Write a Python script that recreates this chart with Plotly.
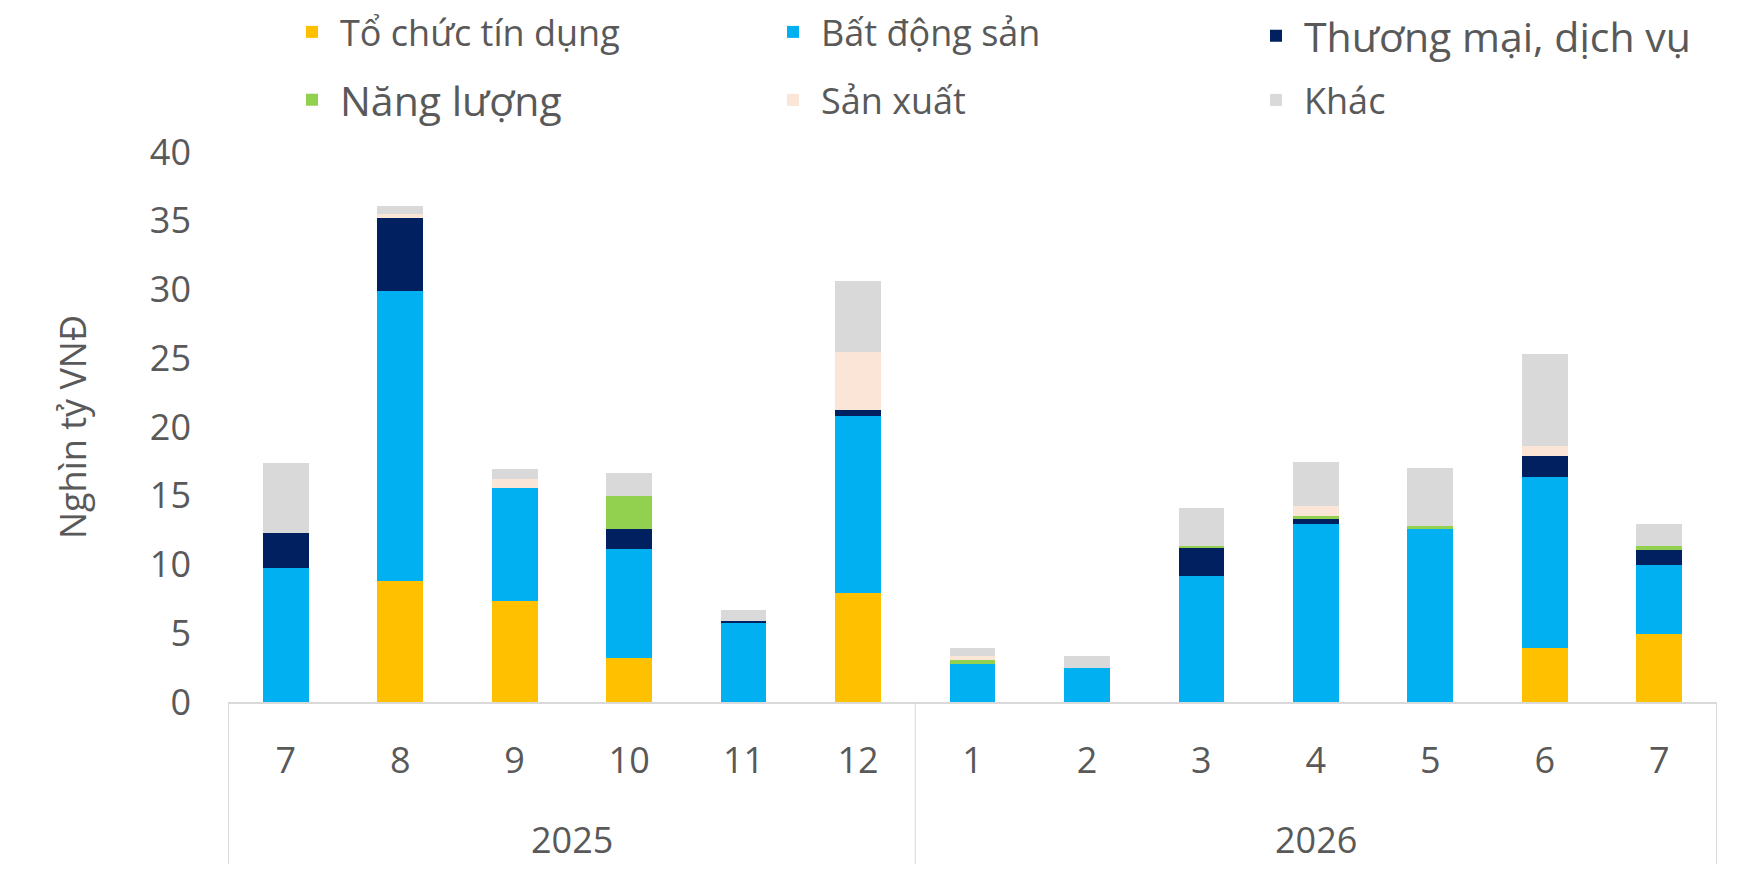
import plotly.graph_objects as go

years = ["2025", "2026"]
months = ["7", "8", "9", "10", "11", "12", "1", "2", "3", "4", "5", "6", "7"]
month_year = ["2025"] * 6 + ["2026"] * 7

credit = [0, 8.83, 7.37, 3.17, 0, 7.96, 0, 0, 0, 0, 0, 3.90, 4.92]
real_estate = [9.72, 21.09, 8.16, 7.99, 5.77, 12.81, 2.73, 2.45, 9.13, 12.92, 12.63, 12.50, 5.08]
trade = [2.60, 5.25, 0, 1.45, 0.15, 0.44, 0, 0, 2.04, 0.44, 0, 1.47, 1.03]
energy = [0, 0, 0, 2.34, 0, 0, 0.30, 0, 0.15, 0.14, 0.14, 0, 0.29]
manufacturing = [0, 0.29, 0.72, 0, 0, 4.21, 0.29, 0, 0, 0.73, 0, 0.73, 0]
other = [5.09, 0.60, 0.73, 1.74, 0.74, 5.23, 0.58, 0.87, 2.76, 3.20, 4.23, 6.68, 1.60]

names = ["Tổ chức tín dụng", "Bất động sản", "Thương mại, dịch vụ",
         "Năng lượng", "Sản xuất", "Khác"]
values = [credit, real_estate, trade, energy, manufacturing, other]
colors = ["#FFC000", "#00B0F0", "#002060", "#92D050", "#FBE5D6", "#D9D9D9"]

FONT = "Open Sans"
GREY = "#595959"
W, H = 1741, 869
OFF = 8  # page body margin offset

# target pixel positions on the page
plot_l, plot_r, plot_t, plot_b = 228, 1717, 152, 702
ml = plot_l - OFF
mr = W - (plot_r - OFF)
mt = plot_t - OFF
mb = H - (plot_b - OFF)
pw = W - ml - mr
ph = H - mt - mb

def py(page_y):
    """page y pixel -> paper y"""
    return ((plot_b - OFF) - (page_y - OFF)) / ph

def px(page_x):
    return ((page_x - OFF) - (plot_l - OFF)) / pw

cats = [f"{y}-{m}" for y, m in zip(month_year, months)]

ITEMW = 46
leg_cx = [312, 793, 1276, 312, 793, 1276]
leg_cy = [32, 32, 36, 100, 100, 100]
leg_size = [36, 36, 41, 41, 36, 36]

fig = go.Figure()
layout_legends = {}
for i, (name, vals, color) in enumerate(zip(names, values, colors)):
    lid = "legend" if i == 0 else f"legend{i + 1}"
    fig.add_trace(go.Bar(
        x=cats, y=vals, name=name, marker_color=color,
        marker_line_width=0, legend=lid,
    ))
    layout_legends[lid] = dict(
        x=px(leg_cx[i] - (5 + ITEMW / 2)), y=py(leg_cy[i]),
        xanchor="left", yanchor="middle", orientation="h",
        itemwidth=ITEMW, entrywidth=420, entrywidthmode="pixels",
        font=dict(family=FONT, size=leg_size[i], color=GREY),
        bgcolor="rgba(0,0,0,0)", borderwidth=0, itemclick=False,
    )

group_edges = [-0.5, 5.5, 12.5]
group_centers = [2.5, 9.0]
shapes = [
    dict(type="line", xref="x", yref="paper", x0=e, x1=e, y0=0, y1=py(864),
         line=dict(color="#D9D9D9", width=1))
    for e in group_edges
]
annotations = [
    dict(xref="x", yref="paper", x=c, y=py(839), text=yr, showarrow=False,
         xanchor="center", yanchor="middle", font=dict(family=FONT, size=36, color=GREY))
    for c, yr in zip(group_centers, years)
]

fig.update_layout(
    width=W, height=H,
    margin=dict(l=ml, r=mr, t=mt, b=mb, autoexpand=False),
    barmode="stack", bargap=0.6,
    plot_bgcolor="white", paper_bgcolor="white",
    font=dict(family=FONT, size=36, color=GREY),
    showlegend=True,
    shapes=shapes, annotations=annotations,
    **layout_legends,
)

fig.update_yaxes(
    range=[0, 40], dtick=5, showgrid=False, zeroline=False, showline=False,
    tickfont=dict(family=FONT, size=36, color=GREY),
    ticklabelstandoff=36,
    title=dict(text="Nghìn tỷ VNĐ", font=dict(family=FONT, size=36, color=GREY), standoff=52),
)
fig.update_xaxes(
    type="category", categoryorder="array", categoryarray=cats,
    tickvals=cats, ticktext=months,
    showline=True, linecolor="#D9D9D9", linewidth=2,
    showgrid=False, ticks="", ticklabelstandoff=26,
    tickfont=dict(family=FONT, size=36, color=GREY),
)

fig.write_html("out.html")
